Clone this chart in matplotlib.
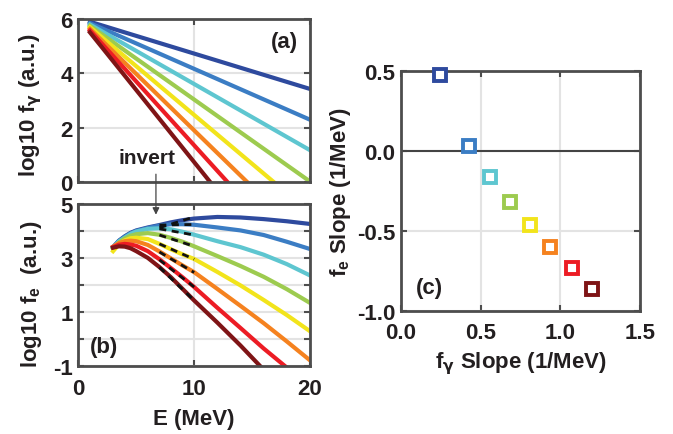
import numpy as np
import matplotlib.pyplot as plt

plt.rcParams['font.family'] = ['Liberation Sans Narrow', 'Liberation Sans', 'DejaVu Sans']
plt.rcParams['font.weight'] = 'bold'
plt.rcParams['axes.labelweight'] = 'bold'
plt.rcParams['mathtext.default'] = 'bf'

txt = '#231f20'
spine = '#4d4d4d'
gridc = '#e3e3e3'
colors = ['#2e4a9e', '#3b7dc4', '#5ec6d0', '#9dcb4f', '#f2e41b', '#f5821f', '#ec1c24', '#7f1416']

# (a) photon spectra, straight lines: start and end points
gam_e0 = [1, 1, 1, 1, 1, 1, 1, 1]
gam_v0 = [5.90, 5.85, 5.80, 5.75, 5.70, 5.64, 5.58, 5.51]
gam_e1 = [20, 20, 20, 20, 16.9, 14.6, 12.9, 11.4]
gam_v1 = [3.43, 2.30, 1.18, 0.03, 0.0, 0.0, 0.0, 0.0]

# (b) electron spectra
el_E = [3, 3.5, 4, 4.5, 5, 6, 7, 8, 9, 10, 12, 14, 16, 18, 20]
el_v = [
    [3.40, 3.64, 3.80, 3.93, 4.02, 4.13, 4.22, 4.32, 4.40, 4.46, 4.52, 4.50, 4.44, 4.36, 4.26],
    [3.40, 3.63, 3.78, 3.91, 4.00, 4.11, 4.20, 4.25, 4.25, 4.23, 4.13, 4.02, 3.85, 3.60, 3.33],
    [3.38, 3.61, 3.75, 3.89, 3.98, 4.08, 4.10, 4.06, 3.97, 3.86, 3.62, 3.40, 3.12, 2.77, 2.35],
    [3.35, 3.57, 3.72, 3.82, 3.88, 3.92, 3.86, 3.74, 3.60, 3.43, 3.07, 2.70, 2.30, 1.84, 1.33],
    [3.25, 3.50, 3.65, 3.73, 3.75, 3.70, 3.52, 3.32, 3.13, 2.96, 2.48, 1.98, 1.44, 0.88, 0.28],
    [3.42, 3.55, 3.62, 3.64, 3.62, 3.48, 3.24, 2.98, 2.72, 2.47, 1.85, 1.22, 0.58, -0.10, -0.80],
    [3.40, 3.49, 3.52, 3.50, 3.45, 3.25, 2.95, 2.62, 2.28, 1.92, 1.15, 0.40, -0.36, -1.07, -1.80],
    [3.38, 3.43, 3.42, 3.36, 3.25, 3.00, 2.66, 2.28, 1.85, 1.42, 0.60, -0.25, -1.15, -2.10, -3.00],
]

# dashed fits between 7 and 10 MeV
fit_E = [7, 10]
fit_v0 = [4.12, 4.22, 4.08, 3.85, 3.52, 3.22, 2.93, 2.65]
fit_v1 = [4.52, 4.24, 3.85, 3.43, 2.95, 2.46, 1.92, 1.42]

# (c) slopes
slope_g = [0.248, 0.427, 0.558, 0.683, 0.812, 0.937, 1.071, 1.202]
slope_e = [0.477, 0.035, -0.162, -0.317, -0.460, -0.596, -0.731, -0.861]

fig = plt.figure(figsize=(6.73, 4.35), dpi=100)
ax_a = fig.add_axes([0.1164, 0.5786, 0.3442, 0.3754])
ax_b = fig.add_axes([0.1164, 0.157, 0.3442, 0.3717])
ax_c = fig.add_axes([0.5958, 0.282, 0.3551, 0.5517])


def style(ax):
    for s in ax.spines.values():
        s.set_color(spine)
        s.set_linewidth(2)
    ax.tick_params(direction='in', top=True, right=True, length=4, width=1.5,
                   color=spine, labelsize=16, labelcolor=txt, pad=4)
    ax.grid(True, color=gridc, lw=1.5)
    ax.set_axisbelow(True)


for i in range(8):
    ax_a.plot([gam_e0[i], gam_e1[i]], [gam_v0[i], gam_v1[i]], color=colors[i], lw=3)
ax_a.set_xlim(0, 20)
ax_a.set_ylim(0, 6)
ax_a.set_xticks([0, 10, 20])
ax_a.set_xticklabels([])
ax_a.set_yticks([0, 2, 4, 6])
style(ax_a)
ax_a.set_ylabel('log10 f$_\\gamma$ (a.u.)', fontsize=16, color=txt)
ax_a.yaxis.set_label_coords(-0.15, 0.48)
ax_a.text(0.89, 0.86, '(a)', transform=ax_a.transAxes, fontsize=16, color=txt, ha='center', va='center')
ax_a.text(5.9, 0.9, 'invert', fontsize=15, color=txt, ha='center', va='center')

for i in range(8):
    ax_b.plot(el_E, el_v[i], color=colors[i], lw=3, solid_joinstyle='round')
for i in range(8):
    ax_b.plot(fit_E, [fit_v0[i], fit_v1[i]], color='#111111', lw=2, ls=(0, (2.5, 2)))
ax_b.set_xlim(0, 20)
ax_b.set_ylim(-1, 5)
ax_b.set_xticks([0, 10, 20])
ax_b.set_yticks(range(-1, 6))
ax_b.set_yticklabels(['-1', '', '1', '', '3', '', '5'])
style(ax_b)
ax_b.tick_params(axis='x', pad=9)
ax_b.set_ylabel('log10 f$_\\mathregular{e}$  (a.u.)', fontsize=16, color=txt)
ax_b.yaxis.set_label_coords(-0.15, 0.45)
ax_b.set_xlabel('E (MeV)', fontsize=16, color=txt, labelpad=6)
ax_b.text(0.11, 0.12, '(b)', transform=ax_b.transAxes, fontsize=16, color=txt, ha='center', va='center')
ax_b.annotate('', xy=(6.7, 4.5), xycoords='data', xytext=(6.7, 0.4), textcoords=ax_a.transData,
              arrowprops=dict(arrowstyle='-|>', color='#444444', lw=0.9, mutation_scale=10),
              annotation_clip=False)

ax_c.axhline(0, color='#444444', lw=1.5)
for i in range(8):
    ax_c.plot(slope_g[i], slope_e[i], 's', mfc='white', mec=colors[i], ms=9, mew=2.8, clip_on=False, zorder=5)
ax_c.set_xlim(0, 1.5)
ax_c.set_ylim(-1, 0.5)
ax_c.set_xticks([0, 0.5, 1.0, 1.5])
ax_c.set_xticklabels(['0.0', '0.5', '1.0', '1.5'])
ax_c.set_yticks([-1, -0.5, 0, 0.5])
ax_c.set_yticklabels(['-1.0', '-0.5', '0.0', '0.5'])
style(ax_c)
ax_c.tick_params(axis='x', pad=8)
ax_c.set_xlabel('f$_\\gamma$ Slope (1/MeV)', fontsize=16, color=txt, labelpad=4)
ax_c.set_ylabel('f$_\\mathregular{e}$ Slope (1/MeV)', fontsize=16, color=txt)
ax_c.yaxis.set_label_coords(-0.2, 0.5)
ax_c.text(0.12, 0.1, '(c)', transform=ax_c.transAxes, fontsize=16, color=txt, ha='center', va='center')

fig.savefig('out.png', dpi=100)
